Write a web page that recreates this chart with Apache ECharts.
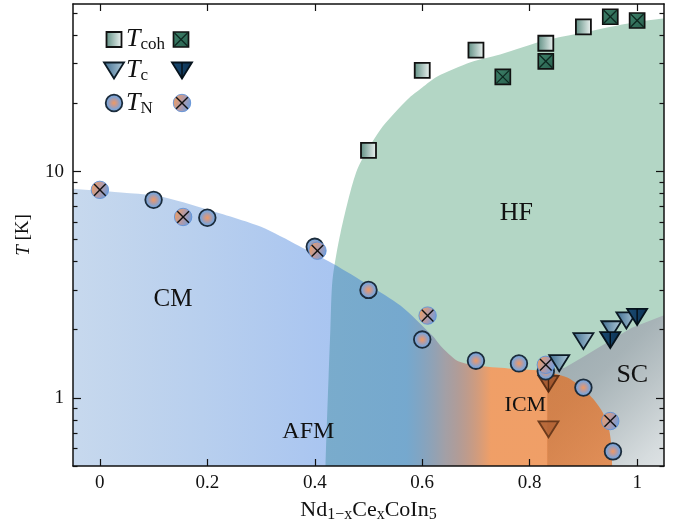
<!DOCTYPE html>
<html><head><meta charset="utf-8">
<script src="https://cdn.jsdelivr.net/npm/echarts@6/dist/echarts.min.js"></script>
<style>html,body{margin:0;padding:0;background:#fff}#c{width:678px;height:531px}</style>
</head><body><div id="c"></div><script>
// ---------- data ----------
const xTicks = [0, 0.2, 0.4, 0.6, 0.8, 1];
const yMajor = [1, 10];
const yMinor = [0.5, 0.6, 0.7, 0.8, 0.9, 2, 3, 4, 5, 6, 7, 8, 9, 20, 30, 40, 50];

const cohOpen  = [[0.50,12.4],[0.60,28.0],[0.70,34.4],[0.83,36.9],[0.90,43.6]];
const cohCross = [[0.75,26.2],[0.83,30.7],[0.95,48.3],[1.00,46.5]];
const tcOpen   = [[0.855,1.43],[0.90,1.79],[0.952,2.02],[0.98,2.21]];
const tcFilled = [[0.95,1.81],[1.00,2.29]];
const tcOpenICM   = [[0.835,0.73]];
const tcFilledICM = [[0.835,1.16]];
const tnOpen  = [[0.10,7.5],[0.20,6.25],[0.40,4.65],[0.50,3.0],[0.60,1.81],[0.70,1.46],[0.78,1.42],[0.83,1.31],[0.90,1.11],[0.955,0.58]];
const tnCross = [[0.00,8.3],[0.155,6.3],[0.405,4.47],[0.61,2.31],[0.83,1.40],[0.95,0.79]];

// phase boundaries (x, T); outer corners lie outside the frame and are clipped
const hfBoundary = [[0.418,0.3],[0.420,0.5],[0.4257,1.24],[0.429,2.0],[0.433,3.33],[0.448,5.37],[0.479,10.2],[0.522,15.3],
  [0.5725,20.8],[0.600,23.5],[0.628,26.3],[0.690,30.4],[0.745,32.9],[0.829,38.0],[0.900,41.2],[0.993,45.6],[1.05,47.5],
  [1.12,49],[1.2,30],[1.2,0.3]];
const afmBoundary = [[-0.12,0.3],[-0.12,8.6],[-0.05,8.4],[0.05,8.05],[0.11,7.8],[0.20,6.8],[0.30,5.7],[0.37,4.7],[0.435,3.9],[0.50,3.15],
  [0.56,2.55],[0.62,1.87],[0.634,1.70],[0.665,1.46],[0.70,1.39],[0.76,1.35],[0.82,1.32],[0.87,1.23],[0.895,1.12],
  [0.918,0.99],[0.935,0.87],[0.947,0.74],[0.952,0.62],[0.9535,0.5],[0.954,0.3]];
const scBoundary = [[0.83,0.3],[0.83,1.33],[0.865,1.36],[0.90,1.52],[0.93,1.68],[0.99,2.04],[1.05,2.32],[1.2,2.6],[1.2,0.3]];

const regionLabels = [['CM',0.136,2.71,25],['AFM',0.388,0.707,24],['HF',0.775,6.52,26],['ICM',0.792,0.93,22],['SC',0.991,1.26,26]];

// ---------- styles ----------
const G = echarts.graphic;
const SERIF = '"Liberation Serif", "DejaVu Serif", serif';

function openSquare(cx, cy) {
  return {type:'group', children:[{type:'rect', shape:{x:cx-7.5, y:cy-7.5, width:15, height:15},
    style:{fill:new G.LinearGradient(0,0,1,0,[{offset:0,color:'#5b8c80'},{offset:1,color:'#f2f6f5'}]), stroke:'#111', lineWidth:1.8}}]};
}
function crossSquare(cx, cy) {
  return {type:'group', children:[
    {type:'rect', shape:{x:cx-7.5, y:cy-7.5, width:15, height:15},
      style:{fill:new G.LinearGradient(0,0,1,1,[{offset:0,color:'#3f836b'},{offset:1,color:'#285f4d'}]), stroke:'#111', lineWidth:1.7}},
    {type:'line', shape:{x1:cx-6.5, y1:cy-6.5, x2:cx+6.5, y2:cy+6.5}, style:{stroke:'#0d2820', lineWidth:1.3}},
    {type:'line', shape:{x1:cx+6.5, y1:cy-6.5, x2:cx-6.5, y2:cy+6.5}, style:{stroke:'#0d2820', lineWidth:1.3}}]};
}
function openTri(cx, cy, brown) {
  return {type:'group', children:[{type:'polygon', shape:{points:[[cx-10,cy-7.5],[cx+10,cy-7.5],[cx,cy+8.5]]},
    style:{fill: brown ? 'rgba(175,98,52,0.85)' : new G.LinearGradient(0,0,1,0,[{offset:0,color:'#3b6a8e'},{offset:1,color:'#b6cedc'}]),
      stroke: brown ? '#6b3a1c' : '#0c1a25', lineWidth:1.8}}]};
}
function filledTri(cx, cy, brown) {
  return {type:'group', children:[
    {type:'polygon', shape:{points:[[cx-10,cy-7.5],[cx+10,cy-7.5],[cx,cy+8.5]]},
      style:{fill: brown ? 'rgba(160,85,45,0.9)' : new G.LinearGradient(0,0,1,0,[{offset:0,color:'#1b4c74'},{offset:1,color:'#0c3254'}]),
        stroke: brown ? '#5e3016' : '#06131d', lineWidth:1.8}},
    {type:'line', shape:{x1:cx, y1:cy-7.5, x2:cx, y2:cy+8.5}, style:{stroke: brown ? '#4a250f' : '#040d14', lineWidth:1.4}}]};
}
function openCircle(cx, cy) {
  return {type:'group', children:[{type:'circle', shape:{cx:cx, cy:cy, r:8.3},
    style:{fill:new G.RadialGradient(0.5,0.5,0.5,[{offset:0,color:'#ee9a62'},{offset:0.3,color:'#c39a95'},{offset:0.7,color:'#80a4d4'},{offset:1,color:'#6b97cf'}]),
      stroke:'#1b2c3c', lineWidth:1.8}}]};
}
function crossCircle(cx, cy) {
  return {type:'group', children:[
    {type:'circle', shape:{cx:cx, cy:cy, r:8.7},
      style:{fill:new G.LinearGradient(0,0.3,1,0.7,[{offset:0,color:'#f09d60'},{offset:0.5,color:'#b49aa6'},{offset:1,color:'#6a9ee0'}]),
        stroke:'rgba(95,145,215,0.9)', lineWidth:1}},
    {type:'line', shape:{x1:cx-5.8, y1:cy-5.8, x2:cx+5.8, y2:cy+5.8}, style:{stroke:'#111', lineWidth:1.4}},
    {type:'line', shape:{x1:cx+5.8, y1:cy-5.8, x2:cx-5.8, y2:cy+5.8}, style:{stroke:'#111', lineWidth:1.4}}]};
}

// ---------- series helpers ----------
function polySeries(points, style, z, smooth) {
  return {type:'custom', coordinateSystem:'cartesian2d', z:z, clip:true, silent:true,
    data:[[0.5,1]], encode:{x:0, y:1},
    renderItem:(params, api) => ({type:'polygon', shape:{points:points.map(p => api.coord(p)), smooth:smooth || 0}, style:style})};
}
function markerSeries(data, fn, z, extra) {
  return {type:'custom', coordinateSystem:'cartesian2d', z:z, clip:false, silent:true,
    data:data, encode:{x:0, y:1},
    renderItem:(params, api) => { const p = api.coord([api.value(0), api.value(1)]); return fn(p[0], p[1], extra); }};
}

const afmX0 = afmBoundary[0][0], afmX1 = afmBoundary[afmBoundary.length-1][0];
const off = x => (x - afmX0) / (afmX1 - afmX0);
const afmFill = new G.LinearGradient(0,0,1,0,[
  {offset:0, color:'rgba(32,101,182,0.22)'},
  {offset:off(-0.05), color:'rgba(32,101,182,0.24)'},
  {offset:off(0.20), color:'rgba(30,103,200,0.31)'},
  {offset:off(0.42), color:'rgba(25,100,215,0.37)'},
  {offset:off(0.58), color:'rgba(25,100,220,0.40)'},
  {offset:off(0.65), color:'rgba(150,115,140,0.55)'},
  {offset:off(0.73), color:'rgba(243,156,98,0.95)'},
  {offset:off(0.829), color:'rgba(243,156,98,0.95)'},
  {offset:off(0.831), color:'rgba(237,100,10,0.62)'},
  {offset:1, color:'rgba(237,100,10,0.62)'}]);
const scFill = new G.LinearGradient(0,0,1,1,[
  {offset:0, color:'#95a6ab'},{offset:0.3, color:'#a7b3b7'},{offset:0.45, color:'#bcc5c8'},
  {offset:0.62, color:'#d6dcde'},{offset:0.8, color:'#eaedef'},{offset:1, color:'#f8f9fa'}]);

const series = [
  polySeries(hfBoundary, {fill:'#b3d6c5'}, 1, 0.25),
  polySeries(scBoundary, {fill:scFill}, 2, 0),
  polySeries(afmBoundary, {fill:afmFill}, 3, 0.25),
  markerSeries(tcOpenICM, openTri, 5, true),
  markerSeries(tcFilledICM, filledTri, 5, true),
  markerSeries(cohOpen, openSquare, 6),
  markerSeries(cohCross, crossSquare, 6),
  markerSeries(tnOpen, openCircle, 6),
  markerSeries(tnCross, crossCircle, 7),
  markerSeries(tcOpen, openTri, 7, false),
  markerSeries(tcFilled, filledTri, 7, false),
  {type:'custom', coordinateSystem:'cartesian2d', z:8, silent:true, clip:false,
    data:regionLabels.map(r => [r[1], r[2]]), encode:{x:0, y:1},
    renderItem:(params, api) => { const p = api.coord([api.value(0), api.value(1)]);
      const r = regionLabels[params.dataIndex];
      return {type:'text', x:p[0], y:p[1], style:{text:r[0], fill:'#111', fontFamily:SERIF, fontSize:r[3], align:'center', verticalAlign:'middle'}}; }}
];

const axLine = {show:true, onZero:false, lineStyle:{color:'#111', width:1.5}};
const noLine = {show:false, onZero:false};
const tickStyle = {color:'#111', width:1.2};
const labelStyle = {fontFamily:SERIF, fontSize:19, color:'#111'};

const yBase = {type:'log', logBase:10, min:0.5, max:55, z:10, splitLine:{show:false}, minorTick:{show:false}, minorSplitLine:{show:false}};

const legendTextRich = {
  t:{fontFamily:SERIF, fontStyle:'italic', fontSize:26, lineHeight:28, verticalAlign:'middle', fill:'#111'},
  s:{fontFamily:SERIF, fontSize:17, lineHeight:8, verticalAlign:'bottom', fill:'#111'}};
function legendText(x, y, sub) {
  return {type:'text', x:x, y:y, style:{text:'{t|T}{s|' + sub + '}', rich:legendTextRich, align:'left', verticalAlign:'middle', fill:'#111'}};
}

const option = {
  animation:false,
  backgroundColor:'#fff',
  grid:{left:73, right:14, top:4, bottom:65, containLabel:false, show:false},
  xAxis:[
    {type:'value', min:-0.05, max:1.05, position:'bottom', z:10, axisLine:axLine,
     axisTick:{inside:true, length:7, customValues:xTicks, lineStyle:tickStyle},
     axisLabel:Object.assign({customValues:xTicks, margin:8, formatter:v => String(+v.toFixed(2))}, labelStyle),
     splitLine:{show:false},
     name:'{n|Nd}{s|1−x}{n|Ce}{s|x}{n|CoIn}{s|5}', nameLocation:'middle', nameGap:31,
     nameTextStyle:{rich:{
       n:{fontFamily:SERIF, fontSize:22, lineHeight:26, verticalAlign:'middle', color:'#111'},
       s:{fontFamily:SERIF, fontSize:16, lineHeight:2, verticalAlign:'bottom', color:'#111'}}}},
    {type:'value', min:-0.05, max:1.05, position:'top', z:10, axisLine:axLine,
     axisTick:{inside:true, length:7, customValues:xTicks, lineStyle:tickStyle},
     axisLabel:{show:false}, splitLine:{show:false}}
  ],
  yAxis:[
    Object.assign({}, yBase, {position:'left', axisLine:axLine,
      axisTick:{inside:true, length:8, customValues:yMajor, lineStyle:tickStyle},
      axisLabel:Object.assign({customValues:yMajor, margin:9, formatter:v => String(Math.round(v))}, labelStyle),
      name:'{i|T} [K]', nameLocation:'middle', nameGap:40, nameRotate:90,
      nameTextStyle:{fontFamily:SERIF, fontSize:19, color:'#111', rich:{i:{fontFamily:SERIF, fontStyle:'italic', fontSize:19, color:'#111'}}}}),
    Object.assign({}, yBase, {position:'left', axisLine:noLine,
      axisTick:{inside:true, length:4.5, customValues:yMinor, lineStyle:tickStyle}, axisLabel:{show:false}}),
    Object.assign({}, yBase, {position:'right', axisLine:axLine,
      axisTick:{inside:true, length:8, customValues:yMajor, lineStyle:tickStyle}, axisLabel:{show:false}}),
    Object.assign({}, yBase, {position:'right', axisLine:noLine,
      axisTick:{inside:true, length:4.5, customValues:yMinor, lineStyle:tickStyle}, axisLabel:{show:false}})
  ],
  series:series,
  graphic:{elements:[
    Object.assign(openSquare(114,39.5), {z:20}),
    Object.assign(legendText(126,39.5,'coh'), {z:20}),
    Object.assign(crossSquare(181,39.5), {z:20}),
    Object.assign(openTri(114,70), {z:20}),
    Object.assign(legendText(126,70,'c'), {z:20}),
    Object.assign(filledTri(182,70), {z:20}),
    Object.assign(openCircle(114,103), {z:20}),
    Object.assign(legendText(126,103,'N'), {z:20}),
    Object.assign(crossCircle(182,103), {z:20})
  ]}
};

const chart = echarts.init(document.getElementById('c'), null, {renderer:'canvas'});
chart.setOption(option);
</script></body></html>
